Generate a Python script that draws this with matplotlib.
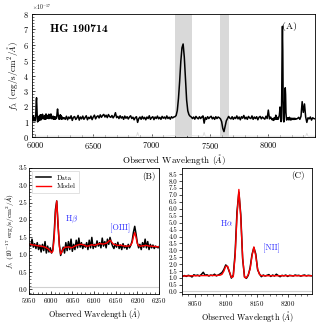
import numpy as np
import matplotlib
matplotlib.use('Agg')
import matplotlib.pyplot as plt
from matplotlib.ticker import AutoMinorLocator, MultipleLocator

plt.rcParams.update({
    'font.family': ['cmr10', 'DejaVu Serif'],
    'mathtext.fontset': 'cm',
    'axes.formatter.use_mathtext': True,
    'font.size': 6,
    'axes.linewidth': 0.6,
})

# ---------------- data ----------------
# Panel B (H-beta region): wavelength grid start/step and values
b_wave = np.arange(5951, 6252, 3)
b_data = [1.30, 1.25, 1.45, 1.22, 1.32, 1.18, 1.35, 1.15, 1.28, 1.08,
          1.30, 1.12, 1.38, 1.05, 1.25, 1.08, 1.20, 1.05, 1.15, 1.60,
          2.30, 2.55, 1.85, 1.30, 0.98, 1.10, 1.22, 1.05, 1.35, 1.12,
          1.38, 1.15, 1.45, 1.10, 1.30, 1.15, 1.42, 1.20, 1.48, 1.22,
          1.35, 1.18, 1.30, 1.22, 1.35, 1.15, 1.42, 1.20, 1.50, 1.18,
          1.30, 1.22, 1.40, 1.25, 1.35, 1.20, 1.48, 1.25, 1.38, 1.20,
          1.45, 1.30, 1.50, 1.35, 1.25, 1.18, 1.32, 1.22, 1.36, 1.18,
          1.28, 1.15, 1.32, 1.20, 1.26, 1.16, 1.30, 1.20, 1.28, 1.40,
          1.65, 1.82, 1.60, 1.35, 1.20, 1.30, 1.15, 1.35, 1.22, 1.45,
          1.20, 1.38, 1.15, 1.30, 1.20, 1.28, 1.18, 1.25, 1.22, 1.20,
          1.25]
b_model = [1.30, 1.30, 1.29, 1.28, 1.28, 1.27, 1.26, 1.26, 1.25, 1.25,
           1.24, 1.23, 1.22, 1.20, 1.18, 1.15, 1.10, 1.06, 1.10, 1.45,
           2.20, 2.55, 1.90, 1.25, 1.02, 1.08, 1.17, 1.21, 1.22, 1.22,
           1.23, 1.22, 1.20, 1.21, 1.23, 1.25, 1.27, 1.28, 1.29, 1.30,
           1.30, 1.29, 1.28, 1.26, 1.25, 1.25, 1.26, 1.28, 1.29, 1.28,
           1.27, 1.28, 1.30, 1.31, 1.32, 1.32, 1.31, 1.31, 1.32, 1.33,
           1.35, 1.39, 1.42, 1.38, 1.33, 1.30, 1.29, 1.28, 1.27, 1.27,
           1.28, 1.27, 1.26, 1.25, 1.25, 1.25, 1.25, 1.26, 1.28, 1.35,
           1.52, 1.64, 1.50, 1.32, 1.26, 1.25, 1.25, 1.26, 1.26, 1.27,
           1.27, 1.26, 1.25, 1.25, 1.25, 1.24, 1.24, 1.24, 1.23, 1.23,
           1.23]
b_err = 0.08

# Panel C (H-alpha region)
c_wave = np.arange(8031, 8242, 3)
c_data = [1.13, 1.18, 1.12, 1.20, 1.16, 1.08, 1.24, 1.18, 1.22, 1.15,
          1.26, 1.42, 1.20, 1.24, 1.15, 1.22, 1.18, 1.28, 1.16, 1.22,
          1.30, 1.40, 1.62, 1.95, 1.80, 1.42, 1.00, 1.20, 2.80, 5.80,
          7.20, 5.60, 2.40, 1.10, 0.98, 1.20, 1.75, 2.70, 3.20, 2.75,
          1.60, 1.30, 1.10, 1.22, 1.15, 1.20, 1.25, 1.12, 1.22, 1.15,
          1.28, 1.18, 1.10, 1.20, 1.16, 1.22, 1.12, 1.20, 1.18, 1.15,
          1.22, 1.18, 1.20, 1.14, 1.19, 1.22, 1.16, 1.20, 1.18, 1.16,
          1.18]
c_model = [1.15, 1.15, 1.16, 1.16, 1.16, 1.17, 1.17, 1.17, 1.17, 1.18,
           1.18, 1.18, 1.18, 1.18, 1.18, 1.19, 1.19, 1.19, 1.19, 1.20,
           1.21, 1.27, 1.50, 1.86, 1.85, 1.45, 1.05, 1.10, 2.60, 5.50,
           7.40, 5.40, 2.50, 1.05, 1.02, 1.25, 1.65, 2.60, 3.25, 2.60,
           1.65, 1.26, 1.18, 1.17, 1.17, 1.17, 1.17, 1.17, 1.17, 1.17,
           1.17, 1.17, 1.17, 1.17, 1.17, 1.17, 1.17, 1.17, 1.17, 1.17,
           1.17, 1.17, 1.17, 1.17, 1.17, 1.17, 1.17, 1.17, 1.17, 1.17,
           1.17]
c_err = 0.05

# Panel A: remaining parts of the full spectrum
mid_wave = np.arange(6260, 8030, 10)
mid_flux = [1.15, 1.35, 1.12, 1.30, 1.20, 1.38, 1.08, 1.28, 1.33, 1.14,
            1.24, 1.40, 1.10, 1.30, 1.18, 1.36, 1.15, 1.26, 1.38, 1.12,
            1.28, 1.20, 1.36, 1.13, 1.30, 1.42, 1.18, 1.32, 1.38, 1.24,
            1.44, 1.28, 1.40, 1.47, 1.30, 1.42, 1.26, 1.46, 1.33, 1.28,
            1.40, 1.24, 1.36, 1.58, 1.26, 1.34, 1.20, 1.38, 1.23, 1.32,
            1.15, 1.36, 1.22, 1.32, 1.17, 1.30, 1.38, 1.20, 1.29, 1.12,
            1.26, 1.32, 0.95, 1.20, 1.30, 1.15, 1.34, 1.18, 1.28, 1.12,
            1.30, 1.20, 1.38, 1.15, 1.26, 1.32, 1.13, 1.30, 1.20, 1.36,
            1.18, 1.28, 1.15, 1.34, 1.22, 1.30, 1.18, 1.37, 1.20, 1.29,
            1.16, 1.32, 1.24, 1.30, 1.32, 1.40, 1.72, 2.50, 3.60, 4.90,
            5.80, 6.05, 5.20, 3.80, 2.40, 1.70, 1.45, 1.35, 1.30, 1.20,
            1.30, 1.16, 1.34, 1.24, 1.18, 1.32, 1.20, 1.30, 1.37, 0.90,
            1.27, 1.15, 1.32, 1.20, 1.29, 1.35, 1.18, 1.28, 1.15, 1.32,
            1.20, 1.30, 1.25, 1.18, 1.00, 0.55, 0.35, 0.70, 1.05, 1.20,
            1.34, 1.23, 1.18, 1.32, 1.15, 1.28, 1.20, 1.37, 1.18, 1.30,
            1.12, 1.32, 1.22, 1.40, 1.18, 1.29, 1.15, 1.34, 1.24, 1.20,
            1.37, 1.15, 1.30, 1.20, 1.32, 1.12, 1.28, 1.34, 1.18, 1.30,
            1.22, 1.16, 1.35, 1.20, 1.75, 1.18, 1.30]
tail_wave = np.arange(8250, 8410, 10)
tail_flux = [1.20, 1.28, 1.15, 1.35, 2.30, 1.60, 2.15, 1.30, 0.95, 1.25,
             1.18, 1.30, 1.10, 1.25, 1.20, 1.18]
err_wave = [5975, 6300, 6500, 6870, 6880, 6890, 7100, 7250, 7265, 7280,
            7440, 7450, 7460, 7700, 8000, 8320, 8330, 8340, 8400]
err_flux = [0.05, 0.06, 0.05, 0.05, 0.30, 0.05, 0.05, 0.10, 0.35, 0.10,
            0.05, 0.30, 0.05, 0.06, 0.05, 0.05, 0.25, 0.05, 0.05]
shade_regions = [(7200, 7350), (7590, 7660)]

# ---------------- figure ----------------
W = H = 322
fig = plt.figure(figsize=(3.22, 3.22), dpi=100)
axA = fig.add_axes([32 / W, 1 - 137 / H, 283 / W, 123 / H])
axB = fig.add_axes([29 / W, 1 - 294 / H, 130 / W, 126 / H])
axC = fig.add_axes([182 / W, 1 - 294 / H, 130 / W, 126 / H])

top_wave = np.concatenate([b_wave, mid_wave, c_wave, tail_wave])
top_flux = np.concatenate([b_data, mid_flux, c_data, tail_flux])
for lo, hi in shade_regions:
    axA.axvspan(lo, hi, color='#d9d9d9', lw=0, zorder=0)
axA.plot(err_wave, np.array(err_flux) * 1e-17, color='#dddddd', lw=0.6)
axA.plot(top_wave, top_flux * 1e-17, color='k', lw=1.1)
axA.set_xlim(5975, 8400)
axA.set_ylim(0, 8e-17)
axA.yaxis.set_major_locator(MultipleLocator(1e-17))
axA.xaxis.set_major_locator(MultipleLocator(500))
axA.xaxis.set_minor_locator(MultipleLocator(100))
axA.yaxis.set_minor_locator(AutoMinorLocator(5))
axA.tick_params(direction='in', labelsize=6, length=2.5, width=0.5, pad=2)
axA.tick_params(which='minor', direction='in', length=1.5, width=0.4)
axA.yaxis.get_offset_text().set_fontsize(4)
axA.set_xlabel(r'Observed Wavelength ($\AA$)', fontsize=6.5, labelpad=1)
axA.set_ylabel(r'$f_\lambda$ (erg/s/cm$^2$/$\AA$)', fontsize=6.5, labelpad=2)
axA.text(6130, 6.8e-17, 'HG 190714', family=['cmb10', 'DejaVu Serif'], fontsize=8.5)
axA.text(8120, 7.0e-17, '(A)', fontsize=7)

# Panel B
axB.axhline(b_err, color='#d0d0d0', lw=0.8)
axB.plot(b_wave, b_data, color='k', lw=1.1, label='Data')
axB.plot(b_wave, b_model, color='red', lw=1.0, label='Model')
axB.set_xlim(5950, 6250)
axB.set_ylim(-0.13, 3.5)
axB.xaxis.set_major_locator(MultipleLocator(50))
axB.yaxis.set_major_locator(MultipleLocator(0.5))
axB.yaxis.set_minor_locator(AutoMinorLocator(5))
axB.xaxis.set_minor_locator(AutoMinorLocator(5))
axB.yaxis.set_major_formatter(matplotlib.ticker.FormatStrFormatter('%.1f'))
axB.tick_params(direction='in', labelsize=5, length=2, width=0.5, pad=1.5)
axB.tick_params(which='minor', direction='in', length=1.2, width=0.4)
axB.set_xlabel(r'Observed Wavelength ($\AA$)', fontsize=5.8, labelpad=0.5)
axB.set_ylabel(r'$f_\lambda$ ($10^{-17}$ erg/s/cm$^2$/$\AA$)', fontsize=5.2, labelpad=1.5)
axB.text(6032, 1.98, r'H$\beta$', color='#3030ff', fontsize=6)
axB.text(6138, 1.70, '[OIII]', color='#3030ff', fontsize=6)
axB.text(6212, 3.18, '(B)', fontsize=6.5)
leg = axB.legend(loc='upper left', fontsize=5, frameon=True, handlelength=2.2,
                 borderpad=0.5, labelspacing=0.4, fancybox=False)
leg.get_frame().set_linewidth(0.5)
leg.get_frame().set_edgecolor('#cccccc')

# Panel C
axC.axhline(c_err, color='#d0d0d0', lw=0.8)
axC.plot(c_wave, c_data, color='k', lw=1.1)
axC.plot(c_wave, c_model, color='red', lw=1.0)
axC.set_xlim(8030, 8238)
axC.set_ylim(-0.15, 8.95)
axC.xaxis.set_major_locator(MultipleLocator(50))
axC.yaxis.set_major_locator(MultipleLocator(0.5))
axC.xaxis.set_minor_locator(AutoMinorLocator(5))
axC.yaxis.set_major_formatter(matplotlib.ticker.FormatStrFormatter('%.1f'))
axC.tick_params(direction='out', labelsize=5, length=2, width=0.5, pad=1.5)
axC.tick_params(which='minor', direction='out', length=1.2, width=0.4)
axC.set_xlabel(r'Observed Wavelength ($\AA$)', fontsize=5.8, labelpad=0.5)
axC.text(8090, 4.75, r'H$\alpha$', color='#3030ff', fontsize=6)
axC.text(8160, 3.0, '[NII]', color='#3030ff', fontsize=6)
axC.text(8205, 8.2, '(C)', fontsize=6.5)

fig.savefig('out.png', dpi=100)
